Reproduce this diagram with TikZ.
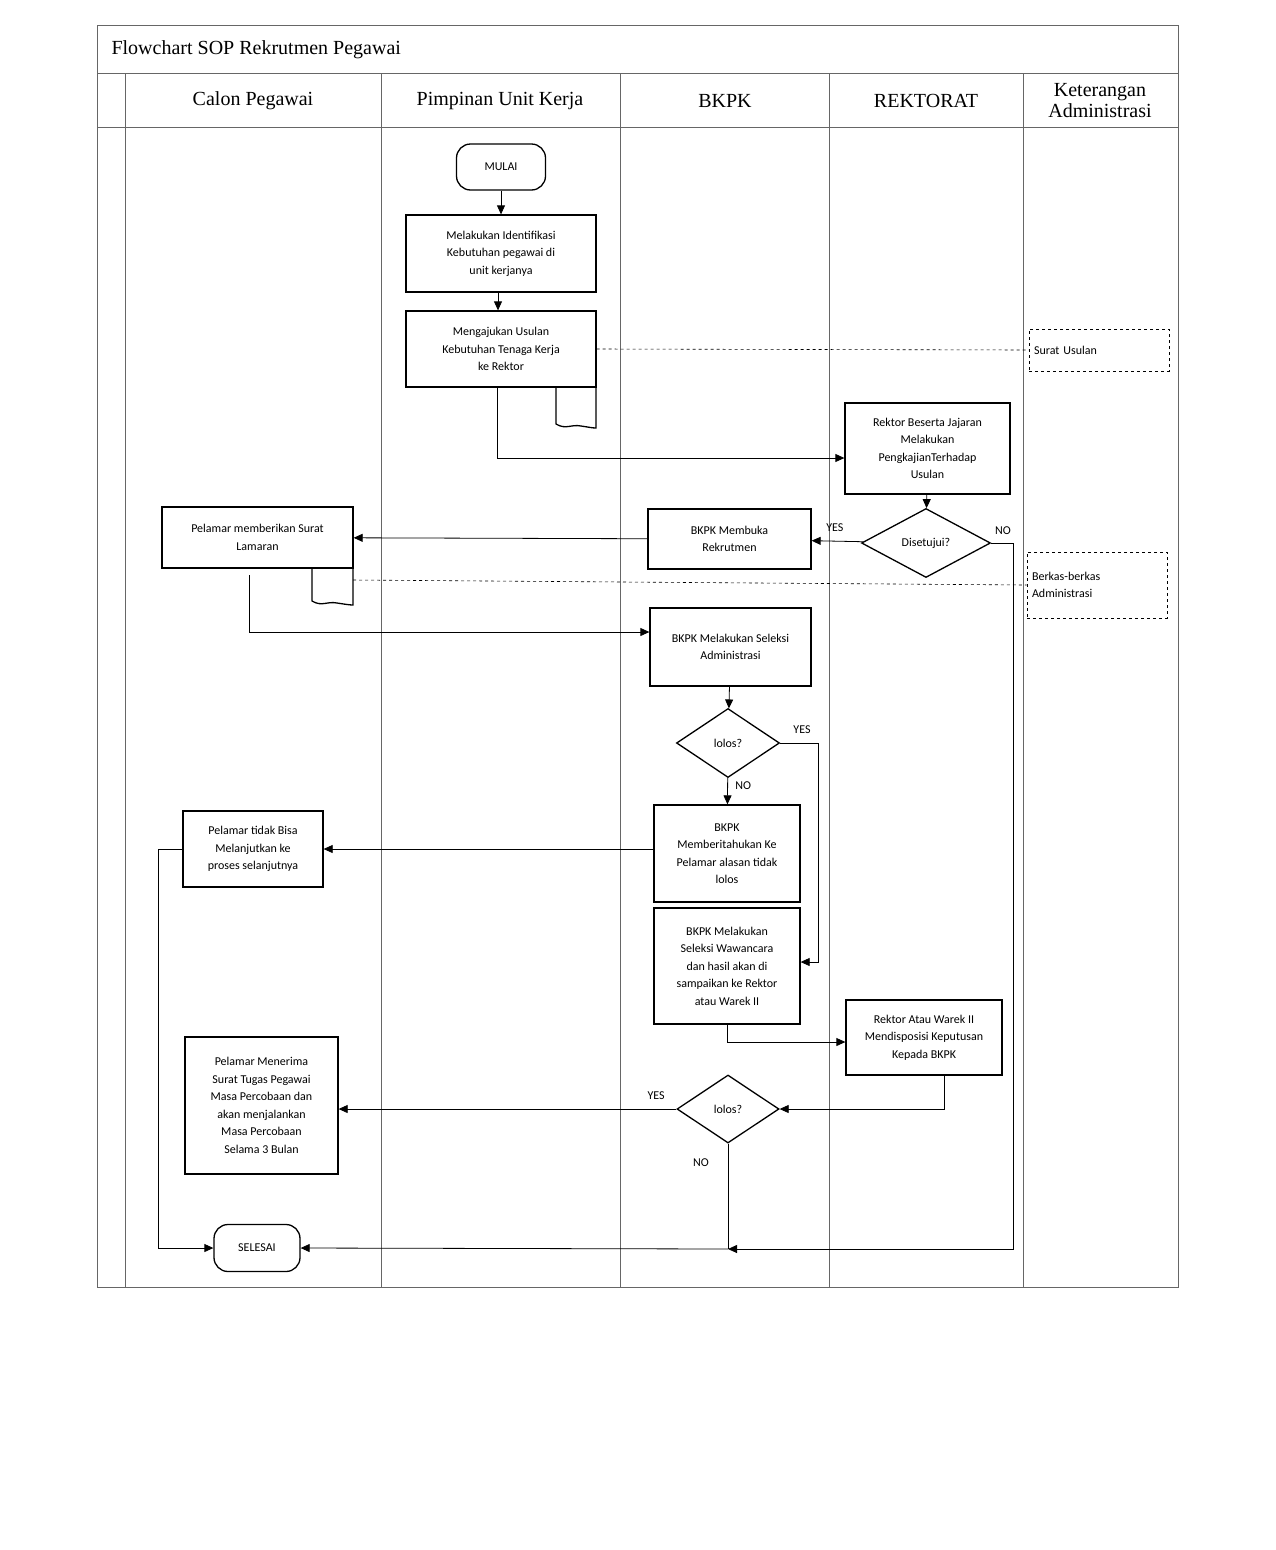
\documentclass[tikz,border=0pt]{standalone}
\usepackage{fontspec}
\setmainfont{Liberation Serif}
\newfontfamily\boxfont{Carlito}
\usetikzlibrary{arrows.meta,shapes.geometric}
\begin{document}
\begin{tikzpicture}[x=1pt,y=-1pt,
  grid/.style={draw=black!60,line width=0.6pt},
  box/.style={draw,line width=1.3pt,font=\boxfont\fontsize{12}{17.5}\selectfont,align=center,inner sep=2pt},
  dec/.style={draw,diamond,aspect=1.5,line width=1.3pt,font=\boxfont\fontsize{12}{15}\selectfont,inner sep=0pt},
  term/.style={draw,rounded corners=14pt,line width=1.3pt,font=\boxfont\fontsize{12}{15}\selectfont},
  note/.style={draw,dashed,line width=0.6pt,font=\boxfont\fontsize{12}{17.5}\selectfont,align=left,inner sep=2pt},
  lab/.style={font=\boxfont\fontsize{12}{15}\selectfont},
  hd/.style={font=\fontsize{20}{20}\selectfont,align=center},
  ar/.style={-{Triangle[length=9pt,width=8pt]},line width=0.8pt},
  ln/.style={line width=0.8pt}]
\useasboundingbox (0,0) rectangle (1275,1550);
% frame
\draw[grid] (97,25) rectangle (1178,1287);
\draw[grid] (97,73) -- (1178,73);
\draw[grid] (97,127) -- (1178,127);
\foreach \x in {125,381,620,829,1023} \draw[grid] (\x,73) -- (\x,1287);
\node[hd,anchor=west] (title) at (108,50) {Flowchart SOP Rekrutmen Pegawai};
\node[hd] (h1) at (253,101) {Calon Pegawai};
\node[hd] (h2) at (500,101) {Pimpinan Unit Kerja};
\node[hd] (h3) at (725,101) {BKPK};
\node[hd] (h4) at (926,101) {REKTORAT};
\node[hd,font=\fontsize{20}{21}\selectfont] (h5) at (1100,101) {Keterangan\\Administrasi};
% nodes
\node[term,minimum width=89pt,minimum height=46pt] (mulai) at (501,167) {MULAI};
\node[box,minimum width=190pt,minimum height=77pt] (ident) at (501,253.5) {Melakukan Identifikasi\\Kebutuhan pegawai di\\unit kerjanya};
\node[box,minimum width=190pt,minimum height=76pt] (usul) at (501,349) {Mengajukan Usulan\\Kebutuhan Tenaga Kerja\\ke Rektor};
\draw[line width=1.3pt] (556,387) -- (556,424) .. controls (566,430) and (571,424) .. (581,426) .. controls (588,427) and (592,428) .. (596,428) -- (596,387);
\node[note,minimum width=140pt,minimum height=42pt,text width=130pt] (surat) at (1099,350) {Surat Usulan};
\node[box,minimum width=165pt,minimum height=91pt] (kaji) at (927.5,448.5) {Rektor Beserta Jajaran\\Melakukan\\PengkajianTerhadap\\Usulan};
\node[dec,minimum width=129pt,minimum height=69pt] (setuju) at (926,543) {Disetujui?};
\node[box,minimum width=163pt,minimum height=60pt] (buka) at (729.5,539) {BKPK Membuka\\Rekrutmen};
\node[box,minimum width=191pt,minimum height=61pt] (lamar) at (257.5,537.5) {Pelamar memberikan Surat\\Lamaran};
\draw[line width=1.3pt] (312,568) -- (312,601) .. controls (322,607) and (327,601) .. (337,603) .. controls (344,604) and (349,605) .. (353,605) -- (353,565);
\node[note,minimum width=140pt,minimum height=66pt,text width=130pt] (berkas) at (1097,585) {Berkas-berkas\\Administrasi};
\node[box,minimum width=161pt,minimum height=78pt] (admin) at (730.5,647) {BKPK Melakukan Seleksi\\Administrasi};
\node[dec,minimum width=103pt,minimum height=69pt] (l1) at (728,743) {lolos?};
\node[box,minimum width=146pt,minimum height=97pt] (beri) at (727,853.5) {BKPK\\Memberitahukan Ke\\Pelamar alasan tidak\\lolos};
\node[box,minimum width=140pt,minimum height=76pt] (tidak) at (253,849) {Pelamar tidak Bisa\\Melanjutkan ke\\proses selanjutnya};
\node[box,minimum width=146pt,minimum height=116pt] (wawan) at (727,966) {BKPK Melakukan\\Seleksi Wawancara\\dan hasil akan di\\sampaikan ke Rektor\\atau Warek II};
\node[box,minimum width=156pt,minimum height=75pt] (warek) at (924,1037.5) {Rektor Atau Warek II\\Mendisposisi Keputusan\\Kepada BKPK};
\node[dec,minimum width=102pt,minimum height=68pt] (l2) at (728,1109) {lolos?};
\node[box,minimum width=153pt,minimum height=137pt] (terima) at (261.5,1105.5) {Pelamar Menerima\\Surat Tugas Pegawai\\Masa Percobaan dan\\akan menjalankan\\Masa Percobaan\\Selama 3 Bulan};
\node[term,minimum width=86pt,minimum height=47pt] (selesai) at (257,1248) {SELESAI};
\coordinate (j) at (728,1249);
% connectors
\draw[ar] (mulai) -- (ident);
\draw[ar] (ident.south -| 498,0) -- (usul.north -| 498,0);
\draw[dashed,line width=0.6pt] (usul.east) -- (surat.west);
\draw[ar] (usul.south -| 497,0) |- (kaji.west |- 0,458);
\draw[ar] (kaji) -- (setuju);
\draw[ar] (setuju) -- (buka) node[lab,pos=0.55,above=6pt] {YES};
\draw[ar] (setuju.east) -- (1013,543) |- (j);
\node[lab] (no1) at (1003,531) {NO};
\draw[ar] (buka) -- (lamar);
\draw[dashed,line width=0.6pt] (353,580) -- (berkas.west);
\draw[ar] (249,575) |- (admin.west |- 0,632);
\draw[ar] (admin) -- (l1);
\draw[ar] (l1) -- (beri) node[lab,pos=0.3,right=4pt] {NO};
\draw[ar] (l1.east) -- (818,743) |- (wawan.east |- 0,962);
\node[lab] (yes1) at (802,730) {YES};
\draw[ar] (beri.west |- 0,849) -- (tidak.east);
\draw[ar] (tidak.west) -- (158,849) |- (selesai.west);
\draw[ar] (wawan.south) |- (warek.west |- 0,1042);
\draw[ar] (warek.south -| 944,0) |- (l2.east);
\draw[ar] (l2.west) -- (terima.east |- l2) node[lab,pos=0.06,above=6pt] {YES};
\draw[ln] (l2.south) -- (j);
\node[lab] (no2) at (701,1163) {NO};
\draw[ar] (j) -- (selesai.east);
\end{tikzpicture}
\end{document}
